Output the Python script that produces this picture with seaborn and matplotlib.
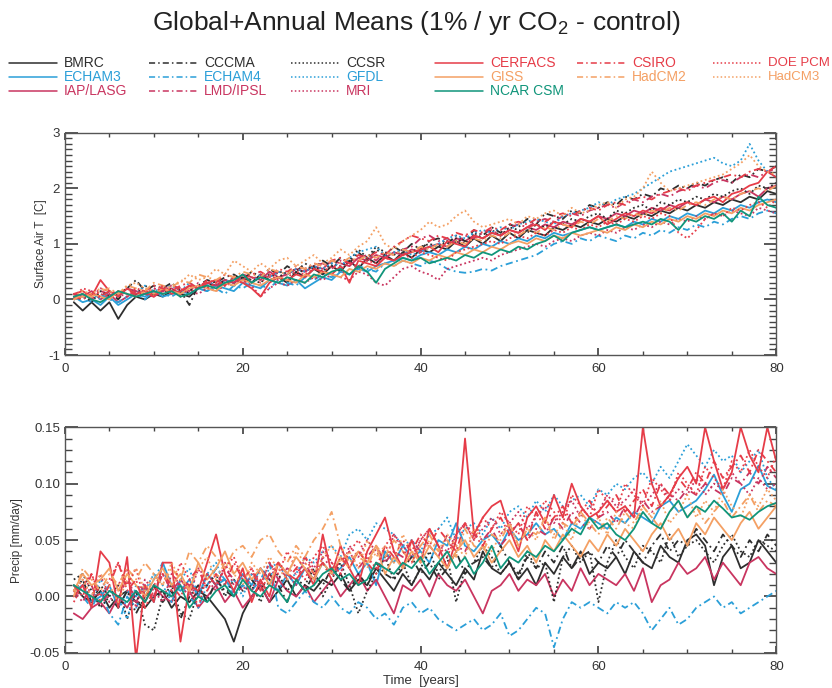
import numpy as np
import pandas as pd
import seaborn as sns
import matplotlib.pyplot as plt
from matplotlib.lines import Line2D

years = list(range(1, 81))

models = ['BMRC', 'ECHAM3', 'IAP/LASG', 'CCCMA', 'ECHAM4', 'LMD/IPSL',
          'CCSR', 'GFDL', 'MRI', 'CERFACS', 'GISS', 'NCAR CSM',
          'CSIRO', 'HadCM2', 'DOE PCM', 'HadCM3']

# surface air temperature change [C], years 1-80
t_bmrc = [-0.05, -0.20, -0.05, -0.20, -0.05, -0.35, -0.10, 0.05, 0.00, 0.10,
          0.05, 0.15, 0.10, 0.05, 0.20, 0.30, 0.25, 0.35, 0.30, 0.40,
          0.30, 0.45, 0.35, 0.40, 0.30, 0.50, 0.40, 0.55, 0.45, 0.60,
          0.50, 0.70, 0.55, 0.75, 0.65, 0.80, 0.70, 0.85, 0.75, 0.90,
          0.85, 0.95, 0.90, 1.05, 0.95, 1.10, 1.00, 1.15, 1.05, 1.20,
          1.10, 1.25, 1.20, 1.15, 1.30, 1.25, 1.35, 1.30, 1.40, 1.35,
          1.45, 1.40, 1.50, 1.45, 1.55, 1.50, 1.60, 1.55, 1.65, 1.60,
          1.70, 1.65, 1.75, 1.70, 1.80, 1.75, 1.85, 1.80, 1.95, 1.90]
t_cccma = [0.05, 0.00, 0.10, 0.05, 0.15, 0.00, 0.20, 0.35, 0.15, 0.25,
           0.20, 0.30, 0.15, -0.10, 0.25, 0.35, 0.30, 0.40, 0.45, 0.35,
           0.50, 0.40, 0.55, 0.45, 0.60, 0.50, 0.65, 0.55, 0.70, 0.60,
           0.75, 0.65, 0.85, 0.70, 0.90, 0.80, 0.95, 0.85, 1.00, 0.90,
           1.05, 1.10, 1.00, 1.15, 1.05, 1.25, 1.15, 1.30, 1.20, 1.35,
           1.30, 1.45, 1.35, 1.55, 1.50, 1.45, 1.60, 1.55, 1.70, 1.65,
           1.75, 1.70, 1.85, 1.80, 1.90, 1.85, 2.00, 1.95, 2.05, 2.00,
           2.10, 2.05, 2.15, 2.20, 2.10, 2.25, 2.20, 2.35, 2.30, 2.40]
t_ccsr = [0.00, 0.10, -0.05, 0.15, 0.05, 0.10, 0.20, 0.10, 0.25, 0.15,
          0.10, 0.20, 0.05, 0.15, 0.25, 0.20, 0.35, 0.30, 0.25, 0.40,
          0.35, 0.30, 0.45, 0.40, 0.50, 0.45, 0.55, 0.60, 0.50, 0.65,
          0.60, 0.70, 0.90, 0.75, 0.95, 0.85, 0.80, 0.90, 0.85, 0.95,
          1.00, 0.95, 1.05, 1.10, 1.00, 1.20, 1.10, 1.25, 1.15, 1.30,
          1.25, 1.20, 1.35, 1.30, 1.40, 1.35, 1.45, 1.40, 1.50, 1.55,
          1.45, 1.60, 1.55, 1.65, 1.70, 1.60, 1.75, 1.70, 1.80, 1.75,
          1.85, 1.80, 1.90, 1.85, 1.95, 2.00, 1.90, 2.05, 2.00, 2.10]
t_echam3 = [0.05, -0.05, 0.00, -0.10, 0.05, -0.10, 0.00, 0.10, 0.05, 0.15,
            0.05, 0.10, 0.15, 0.10, 0.20, 0.15, 0.25, 0.20, 0.15, 0.30,
            0.25, 0.20, 0.35, 0.30, 0.25, 0.35, 0.20, 0.30, 0.40, 0.35,
            0.50, 0.45, 0.55, 0.50, 0.60, 0.65, 0.70, 0.75, 0.70, 0.80,
            0.85, 0.80, 0.90, 0.85, 0.95, 0.90, 1.00, 0.95, 1.05, 1.00,
            1.10, 1.05, 1.15, 1.10, 1.20, 1.15, 1.20, 1.25, 1.30, 1.25,
            1.30, 1.35, 1.30, 1.40, 1.35, 1.45, 1.40, 1.50, 1.45, 1.55,
            1.50, 1.60, 1.55, 1.65, 1.60, 1.70, 1.65, 1.75, 1.80, 1.75]
t_echam4 = [0.00, 0.05, -0.05, 0.10, 0.00, -0.05, 0.05, 0.10, 0.00, 0.15,
            0.10, 0.05, 0.15, 0.10, 0.20, 0.15, 0.20, 0.10, 0.25, 0.20,
            0.30, 0.25, 0.20, 0.35, 0.30, 0.25, 0.40, 0.35, 0.45, 0.40,
            0.50, 0.45, 0.60, 0.55, 0.50, 0.65, 0.60, 0.70, 0.65, 0.60,
            0.70, 0.65, 0.55, 0.50, 0.48, 0.50, 0.55, 0.52, 0.60, 0.65,
            0.70, 0.75, 0.80, 0.90, 1.00, 1.05, 1.00, 1.10, 1.05, 1.15,
            1.10, 1.05, 1.15, 1.10, 1.20, 1.15, 1.25, 1.20, 1.30, 1.25,
            1.35, 1.30, 1.40, 1.35, 1.45, 1.50, 1.45, 1.55, 1.60, 1.55]
t_gfdl = [0.00, 0.05, 0.10, 0.00, 0.15, 0.05, 0.20, 0.10, 0.25, 0.15,
          0.20, 0.25, 0.15, 0.30, 0.20, 0.25, 0.35, 0.30, 0.40, 0.35,
          0.30, 0.45, 0.40, 0.50, 0.45, 0.55, 0.50, 0.60, 0.55, 0.65,
          0.60, 0.75, 0.85, 0.90, 0.95, 0.80, 0.85, 0.90, 0.80, 0.85,
          0.95, 1.00, 1.10, 1.15, 1.10, 1.20, 1.25, 1.20, 1.30, 1.25,
          1.35, 1.40, 1.45, 1.40, 1.35, 1.50, 1.55, 1.60, 1.65, 1.75,
          1.70, 1.80, 1.85, 1.90, 2.00, 2.10, 2.20, 2.30, 2.35, 2.40,
          2.45, 2.50, 2.55, 2.45, 2.40, 2.50, 2.80, 2.50, 2.30, 2.20]
t_iap = [0.10, 0.05, 0.15, 0.00, 0.10, -0.05, 0.05, 0.15, 0.10, 0.05,
         0.15, 0.20, 0.10, 0.25, 0.20, 0.30, 0.25, 0.35, 0.30, 0.45,
         0.40, 0.35, 0.50, 0.40, 0.45, 0.55, 0.50, 0.60, 0.55, 0.70,
         0.65, 0.60, 0.75, 0.70, 0.80, 0.75, 0.85, 0.80, 0.90, 0.85,
         0.95, 1.00, 0.95, 1.10, 1.05, 1.15, 1.10, 1.20, 1.15, 1.25,
         1.20, 1.30, 1.25, 1.35, 1.30, 1.40, 1.35, 1.45, 1.40, 1.50,
         1.45, 1.55, 1.50, 1.60, 1.55, 1.65, 1.60, 1.70, 1.65, 1.75,
         1.70, 1.80, 1.75, 1.85, 1.80, 1.90, 1.95, 1.85, 2.00, 2.05]
t_lmd = [0.05, 0.10, 0.00, 0.15, 0.10, 0.05, 0.20, 0.15, 0.10, 0.20,
         0.15, 0.25, 0.20, 0.15, 0.30, 0.25, 0.20, 0.35, 0.30, 0.40,
         0.35, 0.45, 0.40, 0.50, 0.45, 0.55, 0.50, 0.60, 0.65, 0.55,
         0.70, 0.65, 0.75, 0.80, 0.70, 0.85, 0.80, 0.90, 0.95, 1.10,
         1.15, 1.05, 1.10, 1.00, 1.15, 1.10, 1.20, 1.25, 1.15, 1.30,
         1.35, 1.30, 1.40, 1.45, 1.40, 1.50, 1.55, 1.50, 1.60, 1.65,
         1.70, 1.65, 1.75, 1.80, 1.75, 1.85, 1.90, 1.85, 1.95, 2.00,
         2.05, 2.00, 2.10, 2.15, 2.10, 2.20, 2.25, 2.20, 2.30, 2.35]
t_mri = [0.00, 0.10, 0.05, 0.20, 0.15, 0.10, 0.05, 0.15, 0.10, 0.20,
         0.15, 0.25, 0.20, 0.15, 0.10, 0.20, 0.15, 0.25, 0.30, 0.35,
         0.25, 0.05, 0.20, 0.30, 0.25, 0.35, 0.30, 0.40, 0.35, 0.45,
         0.40, 0.35, 0.50, 0.45, 0.30, 0.25, 0.40, 0.55, 0.60, 0.50,
         0.45, 0.35, 0.55, 0.60, 0.65, 0.70, 0.75, 0.70, 0.80, 0.85,
         0.90, 0.95, 1.00, 0.95, 1.05, 1.10, 1.05, 1.15, 1.20, 1.15,
         1.25, 1.20, 1.30, 1.25, 1.35, 1.30, 1.40, 1.35, 1.45, 1.40,
         1.50, 1.45, 1.55, 1.50, 1.60, 1.55, 1.50, 1.65, 1.60, 1.55]
t_cerfacs = [0.10, 0.15, 0.05, 0.35, 0.15, 0.05, 0.20, 0.10, 0.15, 0.05,
             0.20, 0.10, 0.15, 0.25, 0.20, 0.30, 0.35, 0.25, 0.40, 0.30,
             0.20, 0.05, 0.30, 0.40, 0.35, 0.45, 0.40, 0.55, 0.50, 0.45,
             0.60, 0.30, 0.70, 0.65, 0.60, 0.75, 0.70, 0.80, 0.85, 0.90,
             0.95, 0.85, 1.05, 1.00, 0.95, 1.15, 1.10, 1.20, 1.15, 1.25,
             1.20, 1.30, 1.35, 1.25, 1.40, 1.35, 1.30, 1.45, 1.40, 1.50,
             1.35, 1.45, 1.55, 1.50, 1.60, 1.55, 1.65, 1.60, 1.70, 1.75,
             1.70, 1.80, 1.85, 1.75, 1.90, 1.95, 2.05, 2.10, 2.30, 2.20]
t_csiro = [0.05, 0.00, 0.10, 0.05, 0.15, 0.10, 0.20, 0.05, 0.15, 0.25,
           0.20, 0.15, 0.25, 0.30, 0.20, 0.35, 0.30, 0.45, 0.40, 0.35,
           0.45, 0.50, 0.40, 0.55, 0.50, 0.60, 0.55, 0.65, 0.60, 0.70,
           0.75, 0.65, 0.80, 0.75, 0.85, 0.80, 0.95, 1.05, 1.15, 1.10,
           1.05, 1.15, 1.10, 1.20, 1.15, 1.25, 1.20, 1.30, 1.25, 1.35,
           1.40, 1.35, 1.45, 1.40, 1.50, 1.55, 1.50, 1.60, 1.65, 1.60,
           1.70, 1.75, 1.70, 1.80, 1.85, 1.80, 1.90, 1.95, 2.00, 1.95,
           2.05, 2.10, 2.15, 2.20, 2.25, 2.20, 2.30, 2.35, 2.30, 2.40]
t_doe = [0.05, 0.20, 0.15, 0.10, 0.05, 0.15, 0.10, 0.20, 0.15, 0.10,
         0.25, 0.15, 0.20, 0.10, 0.25, 0.20, 0.30, 0.25, 0.35, 0.30,
         0.40, 0.30, 0.45, 0.35, 0.40, 0.50, 0.45, 0.55, 0.50, 0.60,
         0.55, 0.65, 0.60, 0.70, 0.65, 0.75, 0.70, 0.80, 0.75, 0.85,
         0.80, 0.75, 0.70, 0.85, 0.90, 0.95, 1.00, 1.05, 1.00, 1.10,
         1.15, 1.10, 1.20, 1.15, 1.25, 1.20, 1.30, 1.25, 1.35, 1.30,
         1.40, 1.35, 1.45, 1.40, 1.50, 1.45, 1.55, 1.50, 1.20, 1.10,
         1.25, 1.45, 1.55, 1.50, 1.65, 1.60, 1.70, 1.75, 1.65, 1.80]
t_giss = [0.00, 0.05, 0.10, 0.05, 0.00, 0.15, 0.10, 0.05, 0.15, 0.10,
          0.20, 0.15, 0.10, 0.20, 0.25, 0.20, 0.15, 0.30, 0.25, 0.35,
          0.30, 0.25, 0.35, 0.40, 0.35, 0.30, 0.45, 0.40, 0.50, 0.45,
          0.40, 0.55, 0.50, 0.60, 0.55, 0.65, 0.60, 0.70, 0.65, 0.75,
          0.70, 0.80, 0.75, 0.85, 0.80, 0.90, 0.85, 0.95, 0.90, 1.00,
          1.05, 1.00, 1.10, 1.05, 1.15, 1.10, 1.20, 1.15, 1.20, 1.25,
          1.20, 1.30, 1.25, 1.35, 1.30, 1.40, 1.35, 1.45, 1.40, 1.50,
          1.45, 1.55, 1.50, 1.60, 1.55, 1.65, 1.60, 1.70, 1.75, 1.80]
t_hadcm2 = [0.00, 0.10, 0.05, 0.15, 0.20, 0.10, 0.25, 0.20, 0.15, 0.30,
            0.25, 0.20, 0.35, 0.30, 0.45, 0.40, 0.35, 0.45, 0.40, 0.50,
            0.45, 0.40, 0.55, 0.50, 0.45, 0.60, 0.55, 0.65, 0.60, 0.70,
            0.65, 0.75, 0.70, 0.80, 0.75, 0.85, 0.80, 0.90, 0.85, 0.95,
            0.90, 1.00, 0.95, 1.05, 1.00, 1.10, 1.05, 1.15, 1.10, 1.20,
            1.15, 1.25, 1.20, 1.30, 1.25, 1.35, 1.30, 1.40, 1.35, 1.45,
            1.40, 1.50, 1.45, 1.55, 1.50, 1.60, 1.55, 1.65, 1.60, 1.70,
            1.75, 1.70, 1.80, 1.85, 1.80, 1.90, 1.95, 2.00, 1.95, 2.05]
t_hadcm3 = [0.05, 0.15, 0.10, 0.20, 0.15, 0.10, 0.25, 0.30, 0.20, 0.15,
            0.10, 0.25, 0.30, 0.45, 0.35, 0.40, 0.55, 0.45, 0.70, 0.60,
            0.50, 0.65, 0.55, 0.70, 0.75, 0.60, 0.70, 0.80, 0.65, 0.75,
            0.90, 0.80, 0.95, 1.05, 1.30, 1.00, 0.90, 1.05, 1.15, 1.25,
            1.40, 1.30, 1.35, 1.50, 1.60, 1.40, 1.30, 1.35, 1.40, 1.45,
            1.35, 1.50, 1.45, 1.55, 1.60, 1.50, 1.65, 1.55, 1.60, 1.70,
            1.75, 1.65, 1.80, 1.85, 2.00, 2.30, 2.10, 1.95, 2.00, 2.05,
            2.10, 2.15, 2.20, 2.25, 2.35, 2.45, 2.60, 2.40, 2.30, 2.25]
t_ncar = [0.05, 0.10, 0.00, -0.05, 0.05, 0.15, 0.10, 0.05, 0.10, 0.15,
          0.10, 0.15, 0.05, 0.10, 0.20, 0.25, 0.20, 0.30, 0.35, 0.45,
          0.30, 0.40, 0.35, 0.30, 0.40, 0.35, 0.30, 0.45, 0.40, 0.50,
          0.55, 0.45, 0.60, 0.50, 0.30, 0.55, 0.65, 0.75, 0.70, 0.75,
          0.65, 0.70, 0.75, 0.70, 0.80, 0.75, 0.85, 0.80, 0.90, 0.85,
          0.95, 0.90, 1.00, 1.05, 1.15, 1.05, 1.20, 1.25, 1.30, 1.25,
          1.30, 1.35, 1.30, 1.35, 1.40, 1.35, 1.45, 1.40, 1.25, 1.45,
          1.40, 1.50, 1.45, 1.55, 1.40, 1.60, 1.50, 1.85, 1.70, 1.65]

# precipitation change [mm/day], years 1-80
p_bmrc = [0.010, 0.000, -0.005, 0.005, -0.010, 0.000, 0.005, -0.005, -0.010, 0.000,
          0.005, -0.010, 0.000, -0.005, 0.005, 0.000, -0.010, -0.020, -0.040, -0.015,
          0.000, 0.010, -0.005, 0.005, 0.015, 0.000, 0.010, 0.005, 0.015, 0.010,
          0.020, 0.005, 0.015, 0.010, 0.025, 0.015, 0.005, 0.020, 0.010, 0.025,
          0.015, 0.030, 0.020, 0.010, 0.025, 0.015, 0.040, 0.025, 0.020, 0.030,
          0.015, 0.025, 0.010, 0.030, 0.020, 0.035, 0.025, 0.040, 0.020, 0.030,
          0.025, 0.035, 0.020, 0.040, 0.030, 0.025, 0.045, 0.035, 0.030, 0.050,
          0.055, 0.045, 0.010, 0.035, 0.045, 0.025, 0.030, 0.050, 0.040, 0.030]
p_cccma = [0.005, 0.015, -0.005, 0.010, 0.000, -0.010, 0.005, -0.015, 0.000, 0.010,
           -0.005, 0.005, -0.020, 0.000, 0.010, -0.005, 0.015, 0.005, 0.000, 0.010,
           0.015, 0.005, 0.020, 0.010, -0.005, 0.015, 0.005, 0.020, 0.010, 0.025,
           0.015, 0.005, 0.020, 0.010, 0.030, 0.020, 0.015, 0.025, 0.035, 0.020,
           0.030, 0.015, 0.025, 0.040, 0.020, 0.030, 0.035, 0.025, 0.045, 0.030,
           0.020, 0.035, 0.025, 0.040, 0.030, 0.045, 0.025, 0.035, 0.040, 0.030,
           0.045, 0.035, 0.050, 0.040, 0.030, 0.045, 0.055, 0.040, 0.050, 0.045,
           0.060, 0.050, 0.040, 0.055, 0.045, 0.035, 0.050, 0.040, 0.055, 0.045]
p_ccsr = [0.015, 0.020, 0.005, -0.010, 0.000, 0.010, -0.020, 0.005, -0.025, -0.030,
          0.000, 0.010, -0.015, -0.020, 0.005, 0.010, 0.020, 0.000, 0.015, 0.005,
          0.010, -0.005, 0.015, 0.020, 0.005, 0.015, 0.010, 0.025, 0.000, 0.015,
          0.030, 0.010, -0.015, 0.005, 0.020, 0.035, 0.015, 0.030, 0.010, 0.025,
          0.040, 0.020, 0.035, -0.005, 0.025, 0.030, 0.045, 0.035, 0.020, 0.030,
          0.015, 0.040, 0.025, 0.030, -0.005, 0.035, 0.045, 0.030, 0.040, -0.005,
          0.030, 0.050, 0.035, 0.025, 0.045, 0.040, 0.030, 0.055, 0.035, 0.045,
          0.050, 0.040, 0.030, 0.045, 0.055, 0.040, 0.035, 0.050, 0.045, 0.040]
p_echam3 = [0.005, 0.010, -0.005, 0.000, 0.010, -0.010, 0.005, 0.000, 0.010, -0.005,
            0.030, 0.010, 0.005, 0.015, 0.000, 0.020, 0.010, 0.015, 0.005, 0.020,
            0.010, 0.025, 0.015, 0.005, 0.020, 0.010, 0.025, 0.015, 0.030, 0.020,
            0.025, 0.035, 0.020, 0.030, 0.010, 0.040, 0.030, 0.045, 0.035, 0.040,
            0.030, 0.050, 0.045, 0.065, 0.045, 0.040, 0.050, 0.055, 0.045, 0.060,
            0.050, 0.055, 0.065, 0.055, 0.060, 0.050, 0.065, 0.060, 0.070, 0.065,
            0.060, 0.070, 0.065, 0.075, 0.070, 0.065, 0.080, 0.085, 0.075, 0.080,
            0.085, 0.095, 0.108, 0.090, 0.075, 0.095, 0.100, 0.116, 0.098, 0.094]
p_echam4 = [0.010, 0.000, -0.010, 0.005, -0.015, -0.025, 0.000, -0.010, 0.005, 0.015,
            0.030, -0.005, 0.010, 0.000, -0.010, 0.010, 0.025, 0.015, 0.000, 0.010,
            0.005, 0.015, 0.030, -0.010, -0.015, -0.005, 0.005, -0.005, -0.010, 0.000,
            -0.010, -0.015, -0.005, -0.010, -0.020, -0.015, -0.025, -0.010, -0.005, -0.015,
            -0.010, -0.020, -0.025, -0.030, -0.025, -0.020, -0.030, -0.025, -0.015, -0.035,
            -0.030, -0.020, -0.010, -0.015, -0.045, -0.020, -0.005, -0.010, -0.005, -0.010,
            -0.015, -0.005, -0.010, -0.005, -0.015, -0.030, -0.020, -0.010, -0.025, -0.020,
            -0.010, -0.005, 0.000, -0.010, -0.005, -0.015, -0.010, -0.005, 0.000, 0.005]
p_gfdl = [0.000, 0.010, -0.005, 0.015, 0.005, 0.000, -0.020, 0.010, 0.005, 0.020,
          0.010, -0.005, 0.015, 0.025, 0.000, 0.020, 0.030, 0.010, 0.015, 0.000,
          0.020, 0.010, 0.025, 0.030, 0.015, 0.020, 0.035, 0.030, 0.040, 0.045,
          0.035, 0.055, 0.060, 0.050, 0.065, 0.060, 0.055, 0.045, 0.050, 0.040,
          0.055, 0.060, 0.070, 0.050, 0.060, 0.065, 0.055, 0.070, 0.060, 0.075,
          0.080, 0.070, 0.085, 0.075, 0.090, 0.080, 0.085, 0.090, 0.080, 0.095,
          0.090, 0.100, 0.095, 0.105, 0.110, 0.100, 0.115, 0.105, 0.120, 0.135,
          0.125, 0.115, 0.130, 0.120, 0.125, 0.110, 0.120, 0.130, 0.105, 0.095]
p_iap = [-0.015, -0.020, -0.010, -0.005, -0.015, 0.000, -0.010, 0.005, -0.005, 0.010,
         0.000, -0.005, 0.015, 0.005, -0.010, 0.000, 0.010, -0.005, 0.005, -0.010,
         0.000, 0.010, -0.005, 0.015, 0.005, 0.000, 0.010, -0.005, 0.005, 0.015,
         0.000, 0.010, 0.020, 0.005, 0.015, 0.000, -0.015, 0.010, 0.005, 0.015,
         0.000, 0.020, 0.010, 0.005, 0.015, 0.000, -0.015, 0.005, 0.010, 0.020,
         0.005, 0.015, 0.010, 0.020, 0.000, 0.015, 0.005, 0.025, 0.010, 0.020,
         0.015, 0.010, 0.020, 0.005, 0.025, -0.005, 0.010, 0.015, 0.030, 0.020,
         0.025, 0.035, 0.015, 0.030, 0.020, 0.010, 0.030, 0.035, 0.025, 0.020]
p_lmd = [0.005, -0.005, 0.010, -0.010, 0.005, 0.000, 0.015, -0.005, 0.010, 0.000,
         0.020, 0.005, 0.015, 0.010, 0.000, 0.020, 0.010, 0.025, 0.015, 0.005,
         0.020, 0.010, 0.030, 0.015, 0.025, 0.020, 0.030, 0.015, 0.035, 0.025,
         0.030, 0.040, 0.025, 0.035, 0.045, 0.030, 0.040, 0.035, 0.050, 0.040,
         0.045, 0.035, 0.055, 0.045, 0.040, 0.055, 0.050, 0.060, 0.045, 0.055,
         0.065, 0.050, 0.060, 0.055, 0.070, 0.060, 0.075, 0.065, 0.060, 0.070,
         0.075, 0.065, 0.080, 0.070, 0.085, 0.075, 0.080, 0.090, 0.085, 0.095,
         0.090, 0.100, 0.095, 0.090, 0.105, 0.100, 0.110, 0.100, 0.115, 0.105]
p_mri = [0.005, 0.015, 0.000, 0.020, -0.005, 0.010, 0.025, -0.010, 0.015, 0.005,
         -0.005, 0.020, 0.010, 0.000, 0.025, 0.015, 0.005, 0.030, 0.010, 0.020,
         0.005, 0.025, 0.015, 0.030, 0.020, 0.010, 0.035, 0.025, 0.040, 0.030,
         0.020, 0.045, 0.035, 0.050, 0.040, 0.030, 0.055, 0.045, 0.035, 0.050,
         0.060, 0.045, 0.040, 0.055, 0.065, 0.050, 0.060, 0.070, 0.055, 0.065,
         0.075, 0.060, 0.070, 0.080, 0.065, 0.075, 0.085, 0.070, 0.080, 0.075,
         0.090, 0.080, 0.085, 0.095, 0.080, 0.090, 0.100, 0.085, 0.095, 0.090,
         0.105, 0.090, 0.100, 0.095, 0.110, 0.100, 0.090, 0.105, 0.095, 0.100]
p_cerfacs = [0.000, 0.010, -0.010, 0.040, 0.030, -0.010, 0.035, -0.055, 0.010, -0.005,
             0.030, 0.030, -0.040, 0.010, 0.005, 0.030, 0.055, 0.020, 0.005, 0.025,
             -0.005, 0.015, 0.000, 0.030, 0.020, 0.015, 0.025, 0.010, 0.055, 0.020,
             0.045, 0.025, 0.010, 0.040, 0.055, 0.070, 0.040, 0.025, 0.050, 0.030,
             0.060, 0.045, 0.025, 0.050, 0.140, 0.055, 0.070, 0.080, 0.085, 0.060,
             0.040, 0.070, 0.080, 0.065, 0.090, 0.070, 0.100, 0.080, 0.070, 0.075,
             0.085, 0.075, 0.080, 0.070, 0.150, 0.100, 0.080, 0.090, 0.105, 0.115,
             0.100, 0.150, 0.120, 0.095, 0.110, 0.150, 0.125, 0.110, 0.150, 0.120]
p_csiro = [0.010, 0.000, 0.020, -0.005, 0.010, 0.030, 0.005, 0.015, -0.010, 0.005,
           0.020, 0.010, 0.000, 0.015, 0.025, 0.005, 0.020, 0.010, 0.030, 0.015,
           0.025, 0.005, 0.020, 0.030, 0.015, 0.025, 0.035, 0.020, 0.030, 0.015,
           0.035, 0.025, 0.040, 0.030, 0.020, 0.045, 0.035, 0.050, 0.040, 0.055,
           0.045, 0.060, 0.050, 0.040, 0.065, 0.055, 0.045, 0.060, 0.070, 0.055,
           0.065, 0.050, 0.075, 0.060, 0.070, 0.080, 0.065, 0.075, 0.085, 0.070,
           0.080, 0.090, 0.075, 0.085, 0.095, 0.080, 0.100, 0.090, 0.105, 0.095,
           0.110, 0.100, 0.120, 0.105, 0.115, 0.125, 0.110, 0.130, 0.120, 0.110]
p_doe = [-0.005, 0.010, 0.020, 0.000, 0.015, 0.030, 0.010, 0.025, -0.005, 0.010,
         0.020, 0.005, 0.030, 0.015, -0.010, 0.020, 0.010, 0.025, 0.035, 0.015,
         0.025, 0.010, 0.030, 0.020, 0.040, 0.025, 0.015, 0.035, 0.045, 0.030,
         0.020, 0.040, 0.050, 0.035, 0.025, 0.045, 0.055, 0.040, 0.030, 0.050,
         0.060, 0.045, 0.035, 0.055, 0.065, 0.050, 0.070, 0.060, 0.075, 0.065,
         0.055, 0.080, 0.070, 0.085, 0.075, 0.065, 0.090, 0.080, 0.070, 0.095,
         0.085, 0.075, 0.100, 0.090, 0.080, 0.105, 0.095, 0.085, 0.110, 0.100,
         0.090, 0.115, 0.105, 0.095, 0.120, 0.110, 0.130, 0.115, 0.105, 0.125]
p_giss = [0.005, 0.020, 0.010, 0.015, 0.025, 0.005, 0.020, 0.010, 0.000, 0.015,
          0.025, 0.010, 0.020, 0.005, 0.030, 0.015, 0.025, 0.040, 0.020, 0.030,
          0.015, 0.025, 0.010, 0.030, 0.020, 0.035, 0.025, 0.015, 0.030, 0.020,
          0.035, 0.025, 0.040, 0.030, 0.045, 0.020, 0.035, 0.025, 0.040, 0.030,
          0.045, 0.035, 0.025, 0.040, 0.050, 0.035, 0.045, 0.030, 0.040, 0.050,
          0.035, 0.045, 0.030, 0.050, 0.040, 0.055, 0.045, 0.035, 0.050, 0.040,
          0.055, 0.045, 0.060, 0.050, 0.040, 0.055, 0.065, 0.050, 0.060, 0.045,
          0.065, 0.055, 0.070, 0.060, 0.050, 0.065, 0.075, 0.060, 0.070, 0.080]
p_hadcm2 = [0.000, 0.025, 0.015, 0.005, 0.020, 0.010, 0.025, 0.015, 0.030, 0.020,
            0.010, 0.025, 0.015, 0.040, 0.030, 0.045, 0.035, 0.025, 0.040, 0.045,
            0.035, 0.050, 0.055, 0.040, 0.030, 0.045, 0.035, 0.050, 0.060, 0.075,
            0.045, 0.030, 0.040, 0.025, 0.045, 0.035, 0.050, 0.040, 0.030, 0.045,
            0.055, 0.040, 0.050, 0.035, 0.060, 0.045, 0.040, 0.055, 0.050, 0.065,
            0.045, 0.060, 0.055, 0.070, 0.050, 0.065, 0.060, 0.075, 0.065, 0.055,
            0.070, 0.060, 0.075, 0.065, 0.080, 0.070, 0.060, 0.075, 0.085, 0.070,
            0.080, 0.065, 0.075, 0.085, 0.070, 0.080, 0.090, 0.075, 0.085, 0.080]
p_hadcm3 = [0.005, 0.015, 0.000, 0.020, 0.010, -0.005, 0.015, 0.025, 0.005, 0.020,
            0.010, 0.030, 0.015, 0.005, 0.025, 0.035, 0.015, 0.030, 0.020, 0.010,
            0.030, 0.020, 0.035, 0.025, 0.015, 0.040, 0.030, 0.020, 0.035, 0.045,
            0.030, 0.040, 0.025, 0.050, 0.035, 0.045, 0.030, 0.055, 0.040, 0.035,
            0.050, 0.040, 0.055, 0.045, 0.035, 0.060, 0.050, 0.040, 0.055, 0.065,
            0.045, 0.060, 0.050, 0.070, 0.055, 0.065, 0.050, 0.075, 0.060, 0.070,
            0.055, 0.075, 0.065, 0.060, 0.080, 0.070, 0.085, 0.065, 0.075, 0.090,
            0.070, 0.085, 0.075, 0.095, 0.080, 0.070, 0.090, 0.080, 0.095, 0.085]
p_ncar = [0.010, 0.005, 0.000, -0.005, 0.005, 0.000, -0.005, 0.005, -0.005, 0.010,
          0.005, 0.000, 0.010, -0.010, 0.000, -0.005, 0.005, 0.010, 0.000, 0.015,
          0.005, 0.000, 0.010, 0.005, -0.005, 0.015, 0.005, 0.010, 0.020, 0.025,
          0.015, 0.020, 0.010, 0.015, 0.030, 0.025, 0.020, 0.030, 0.025, 0.035,
          0.020, 0.030, 0.040, 0.025, 0.035, 0.020, 0.030, 0.045, 0.025, 0.035,
          0.030, 0.040, 0.035, 0.045, 0.040, 0.050, 0.060, 0.055, 0.070, 0.060,
          0.065, 0.055, 0.050, 0.060, 0.075, 0.065, 0.060, 0.075, 0.085, 0.070,
          0.080, 0.075, 0.085, 0.078, 0.070, 0.072, 0.068, 0.075, 0.080, 0.083]

temp = {'BMRC': t_bmrc, 'CCCMA': t_cccma, 'CCSR': t_ccsr,
        'ECHAM3': t_echam3, 'ECHAM4': t_echam4, 'GFDL': t_gfdl,
        'IAP/LASG': t_iap, 'LMD/IPSL': t_lmd, 'MRI': t_mri,
        'CERFACS': t_cerfacs, 'CSIRO': t_csiro, 'DOE PCM': t_doe,
        'GISS': t_giss, 'HadCM2': t_hadcm2, 'HadCM3': t_hadcm3,
        'NCAR CSM': t_ncar}
precip = {'BMRC': p_bmrc, 'CCCMA': p_cccma, 'CCSR': p_ccsr,
          'ECHAM3': p_echam3, 'ECHAM4': p_echam4, 'GFDL': p_gfdl,
          'IAP/LASG': p_iap, 'LMD/IPSL': p_lmd, 'MRI': p_mri,
          'CERFACS': p_cerfacs, 'CSIRO': p_csiro, 'DOE PCM': p_doe,
          'GISS': p_giss, 'HadCM2': p_hadcm2, 'HadCM3': p_hadcm3,
          'NCAR CSM': p_ncar}

black, blue, crimson = '#2e2e2e', '#2b9fd8', '#c93560'
red, orange, green = '#e63c48', '#f4a064', '#10957a'
colors = {'BMRC': black, 'CCCMA': black, 'CCSR': black,
          'ECHAM3': blue, 'ECHAM4': blue, 'GFDL': blue,
          'IAP/LASG': crimson, 'LMD/IPSL': crimson, 'MRI': crimson,
          'CERFACS': red, 'CSIRO': red, 'DOE PCM': red,
          'GISS': orange, 'HadCM2': orange, 'HadCM3': orange,
          'NCAR CSM': green}
solid, dashdot, dot = '', (4, 2, 1, 2), (1, 1.5)
dashes = {'BMRC': solid, 'CCCMA': dashdot, 'CCSR': dot,
          'ECHAM3': solid, 'ECHAM4': dashdot, 'GFDL': dot,
          'IAP/LASG': solid, 'LMD/IPSL': dashdot, 'MRI': dot,
          'CERFACS': solid, 'CSIRO': dashdot, 'DOE PCM': dot,
          'GISS': solid, 'HadCM2': dashdot, 'HadCM3': dot,
          'NCAR CSM': solid}

rows = []
for m in models:
    for y, t, p in zip(years, temp[m], precip[m]):
        rows.append((m, y, t, p))
df = pd.DataFrame(rows, columns=['model', 'year', 'tas', 'pr'])

sns.set_theme(style='ticks')
plt.rcParams['font.family'] = ['Liberation Sans', 'DejaVu Sans']
plt.rcParams['axes.unicode_minus'] = False

fig = plt.figure(figsize=(8.32, 6.88), dpi=100)
ax1 = fig.add_axes([0.078, 0.484, 0.855, 0.323])
ax2 = fig.add_axes([0.078, 0.051, 0.855, 0.328])

draw_order = models[:11] + models[12:] + ['NCAR CSM']
for ax, var in [(ax1, 'tas'), (ax2, 'pr')]:
    sns.lineplot(data=df, x='year', y=var, hue='model', style='model',
                 hue_order=draw_order, style_order=draw_order,
                 palette=colors, dashes=dashes, linewidth=1.3,
                 legend=False, ax=ax)
    ax.set_xlim(0, 80)
    ax.set_xticks([0, 20, 40, 60, 80])
    ax.set_xticks(np.arange(0, 81, 5), minor=True)
    ax.tick_params(axis='both', which='both', direction='in', top=True, right=True,
                   labelsize=9.5, colors='#444444', labelcolor='#333333')
    ax.tick_params(axis='x', which='major', length=5, pad=6)
    ax.tick_params(axis='x', which='minor', length=3)
    ax.tick_params(axis='y', which='major', length=9)
    ax.tick_params(axis='y', which='minor', length=5)
    for s in ax.spines.values():
        s.set_color('#555555')
        s.set_linewidth(1.0)

ax1.set_ylim(-1, 3)
ax1.set_yticks([-1, 0, 1, 2, 3])
ax1.set_yticks(np.arange(-1, 3.01, 0.1), minor=True)
ax1.set_xlabel('')
ax1.set_ylabel('Surface Air T  [C]', fontsize=8.5, color='#333333', labelpad=1)

ax2.set_ylim(-0.05, 0.15)
ax2.set_yticks([-0.05, 0.0, 0.05, 0.10, 0.15])
ax2.set_yticklabels(['-0.05', '0.00', '0.05', '0.10', '0.15'])
ax2.set_yticks(np.arange(-0.05, 0.1501, 0.01), minor=True)
ax2.set_xlabel('Time  [years]', fontsize=9.5, color='#333333', labelpad=1)
ax2.set_ylabel('Precip [mm/day]', fontsize=8.5, color='#333333', labelpad=5)

fig.text(0.5, 0.967, r'Global+Annual Means (1% / yr CO$_{\mathregular{2}}$ - control)',
         ha='center', va='center', fontsize=19, color='#222222')

# legend: six columns of line sample + coloured name
col_x = [9, 149, 291, 435, 577, 713]
row_y = [63, 77, 91]
legend_cols = [['BMRC', 'ECHAM3', 'IAP/LASG'], ['CCCMA', 'ECHAM4', 'LMD/IPSL'],
               ['CCSR', 'GFDL', 'MRI'], ['CERFACS', 'GISS', 'NCAR CSM'],
               ['CSIRO', 'HadCM2'], ['DOE PCM', 'HadCM3']]
W, H = 832, 688
for cx, names in zip(col_x, legend_cols):
    for ry, name in zip(row_y, names):
        yf = 1 - ry / H
        ln = Line2D([cx / W, (cx + 48) / W], [yf, yf], transform=fig.transFigure,
                    color=colors[name], lw=1.1)
        if dashes[name]:
            ln.set_dashes(dashes[name])
        fig.add_artist(ln)
        fs = 9.5 if cx == 713 else 10
        fig.text((cx + 55) / W, yf, name, color=colors[name], fontsize=fs,
                 ha='left', va='center')

fig.savefig('out.png', dpi=100)
